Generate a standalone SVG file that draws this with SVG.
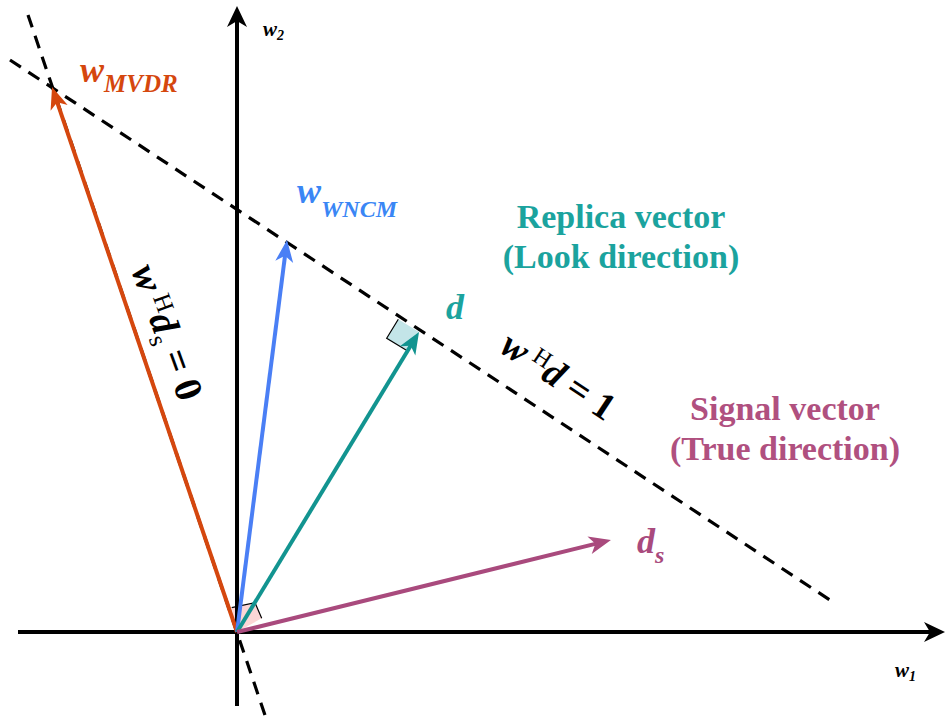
<svg xmlns="http://www.w3.org/2000/svg" width="945" height="721" viewBox="0 0 945 721">
<style>
.ax{stroke:#000;stroke-width:4;fill:none}
.dash{stroke:#000;stroke-width:3.2;stroke-dasharray:13 9;fill:none}
.vec{stroke-width:4;fill:none}
.t{font-family:"Liberation Serif","Times New Roman",serif}
.bi{font-weight:bold;font-style:italic}
.b{font-weight:bold}
.ra{stroke:#000;stroke-width:1.2;fill:none}
</style>
<defs>
<marker id="aK" markerUnits="userSpaceOnUse" markerWidth="40" markerHeight="40" refX="0" refY="0" viewBox="-20 -20 40 40" orient="auto" overflow="visible"><path d="M12,0 L-9,-10 L-3,0 L-9,10 Z" fill="#000"/></marker>
<marker id="aO" markerUnits="userSpaceOnUse" markerWidth="40" markerHeight="40" refX="0" refY="0" viewBox="-20 -20 40 40" orient="auto" overflow="visible"><path d="M12,0 L-10,-9 L-4,0 L-10,9 Z" fill="#d5470e"/></marker>
<marker id="aB" markerUnits="userSpaceOnUse" markerWidth="40" markerHeight="40" refX="0" refY="0" viewBox="-20 -20 40 40" orient="auto" overflow="visible"><path d="M12,0 L-10,-9 L-4,0 L-10,9 Z" fill="#4a7ff5"/></marker>
<marker id="aT" markerUnits="userSpaceOnUse" markerWidth="40" markerHeight="40" refX="0" refY="0" viewBox="-20 -20 40 40" orient="auto" overflow="visible"><path d="M12,0 L-10,-9 L-4,0 L-10,9 Z" fill="#129490"/></marker>
<marker id="aM" markerUnits="userSpaceOnUse" markerWidth="40" markerHeight="40" refX="0" refY="0" viewBox="-20 -20 40 40" orient="auto" overflow="visible"><path d="M12,0 L-10,-9 L-4,0 L-10,9 Z" fill="#a94a7d"/></marker>
</defs>
<rect width="945" height="721" fill="#fff"/>

<g id="right-angles">
<polygon points="237,632 231.7,607.7 255,602.7 261.7,618.3" fill="#fcd6d6"/>
<polyline class="ra" points="231.7,607.7 255,602.7 261.7,618.3"/>
<polygon points="386.7,338.3 398.3,319.3 419,332 406,350" fill="#c3e5e8"/>
<polyline class="ra" points="398.3,319.3 386.7,338.3 406,350"/>
</g>

<g id="connectors">
<line class="ax" x1="18" y1="632" x2="933" y2="632" marker-end="url(#aK)"/>
<line class="ax" x1="237" y1="706" x2="237" y2="18" marker-end="url(#aK)"/>
<line class="dash" x1="10" y1="60" x2="836" y2="604"/>
<line class="dash" x1="28" y1="15" x2="267" y2="721"/>
<line class="vec" stroke="#d5470e" x1="237" y1="632" x2="55.9" y2="98.4" marker-end="url(#aO)"/>
<line class="vec" stroke="#4a7ff5" x1="237" y1="632" x2="285.5" y2="251.9" marker-end="url(#aB)"/>
<line class="vec" stroke="#129490" x1="237" y1="632" x2="412.8" y2="342.3" marker-end="url(#aT)"/>
<line class="vec" stroke="#a94a7d" x1="237" y1="632" x2="599.3" y2="542.9" marker-end="url(#aM)"/>
</g>

<g id="axis-w2"><text class="t" x="263" y="36" font-style="italic" font-weight="bold" font-size="21">w<tspan font-size="14" dy="4">2</tspan></text></g>
<g id="axis-w1"><text class="t" x="895" y="677" font-style="italic" font-weight="bold" font-size="21">w<tspan font-size="14" dy="4">1</tspan></text></g>

<g id="w-mvdr"><text class="t bi" x="80" y="82" fill="#d5470e" font-size="36">w<tspan font-size="25" dy="10">MVDR</tspan></text></g>
<g id="w-wncm"><text class="t bi" x="297" y="203" fill="#3a86f5" font-size="36">w<tspan font-size="24" dy="14">WNCM</tspan></text></g>
<g id="d"><text class="t bi" x="446" y="319" fill="#1ba39e" font-size="36">d</text></g>
<g id="ds"><text class="t bi" x="637" y="553" fill="#a94a7d" font-size="36">d<tspan font-size="24" dy="10">s</tspan></text></g>

<g id="replica">
<text class="t b" fill="#1ba39e" font-size="34" text-anchor="middle"><tspan x="621" y="228">Replica vector</tspan><tspan x="621" y="268">(Look direction)</tspan></text>
</g>
<g id="signal">
<text class="t b" fill="#b0507f" font-size="34" text-anchor="middle"><tspan x="785" y="420">Signal vector</tspan><tspan x="785" y="460">(True direction)</tspan></text>
</g>

<g id="eq1"><text class="t" transform="translate(498,351) rotate(33.4)" font-size="38"><tspan class="bi">w</tspan><tspan font-size="24" dy="-11" dx="7">H</tspan><tspan class="bi" dy="11">d</tspan><tspan class="b"> = 1</tspan></text></g>
<g id="eq0"><text class="t" transform="translate(131,270) rotate(70)" font-size="39"><tspan class="bi">w</tspan><tspan font-size="25" dy="-11" dx="7">H</tspan><tspan class="bi" dy="11">d</tspan><tspan font-size="25" dy="7">s</tspan><tspan class="b" dy="-7"> = 0</tspan></text></g>
</svg>
